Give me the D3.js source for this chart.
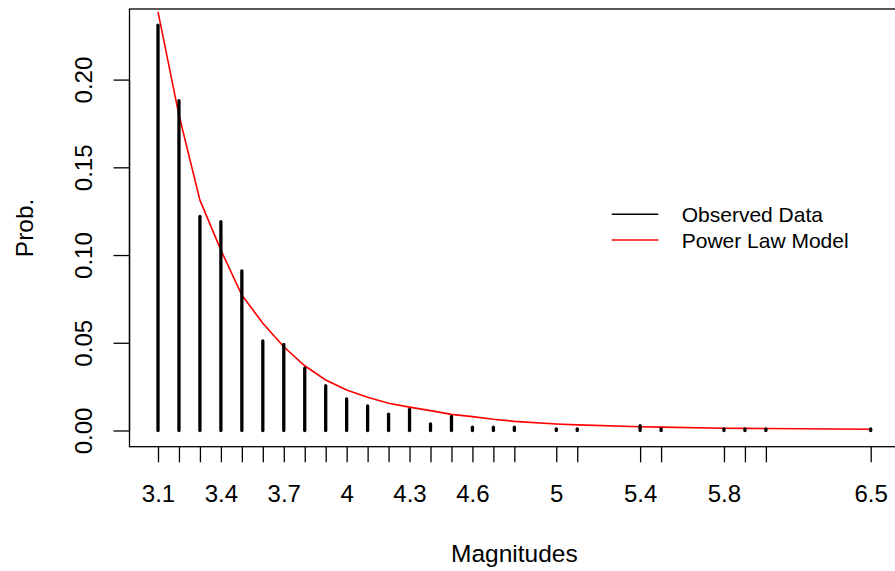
<!DOCTYPE html>
<html>
<head>
<meta charset="utf-8">
<script src="https://cdn.jsdelivr.net/npm/d3@7"></script>
<style>
  body { margin: 0; background: #fff; }
  text { font-family: "Liberation Sans", Arial, Helvetica, sans-serif; fill: #000; }
</style>
</head>
<body>
<div id="chart"></div>
<script>
// magnitudes that occur in the catalogue
var magnitudes = [3.1, 3.2, 3.3, 3.4, 3.5, 3.6, 3.7, 3.8, 3.9, 4.0, 4.1, 4.2, 4.3, 4.4, 4.5, 4.6, 4.7, 4.8,
                  5.0, 5.1, 5.4, 5.5, 5.8, 5.9, 6.0, 6.5];
// observed relative frequency (vertical lines)
var observed = [0.231, 0.188, 0.122, 0.119, 0.091, 0.051, 0.049, 0.0355, 0.0255, 0.018, 0.014, 0.0093, 0.012,
                0.0038, 0.008, 0.0019, 0.0019, 0.0019, 0.00095, 0.00095, 0.0028, 0.00095, 0.00095, 0.00095,
                0.00095, 0.00095];
// fitted power law (red line)
var model = [0.2386, 0.1798, 0.1313, 0.1028, 0.0772, 0.0611, 0.0477, 0.0369, 0.0288, 0.0231, 0.0190, 0.0155,
             0.0133, 0.0113, 0.0092, 0.0079, 0.0064, 0.0052, 0.0037, 0.0032, 0.0021, 0.0019, 0.0013, 0.0012,
             0.0011, 0.0007];
// tick labels R kept after dropping overlaps
var xLabels = [3.1, 3.4, 3.7, 4.0, 4.3, 4.6, 5.0, 5.4, 5.8, 6.5];
var yTicks = [0, 0.05, 0.10, 0.15, 0.20];
var legendNames = ["Observed Data", "Power Law Model"];
var legendColors = ["#000000", "#ff0000"];

var W = 895, H = 571;
var plot = {left: 129.5, right: 899.2, top: 9, bottom: 446.7};

var data = magnitudes.map(function(m, i) {
	return {mag: m, obs: observed[i], fit: model[i]};
});

// scales, padded 4% like R's default
var xMin = d3.min(magnitudes), xMax = d3.max(magnitudes);
var xPad = (xMax - xMin) * 0.04;
var xScale = d3.scaleLinear()
	.domain([xMin - xPad, xMax + xPad])
	.range([plot.left, plot.right]);

var yMax = d3.max(observed);
var yPad = yMax * 0.04;
var yScale = d3.scaleLinear()
	.domain([-yPad, yMax + yPad])
	.range([plot.bottom, plot.top]);

var svg = d3.select("#chart")
	.append("svg")
		.attr("width", W)
		.attr("height", H);

svg.append("clipPath")
	.attr("id", "clip")
	.append("rect")
		.attr("x", plot.left)
		.attr("y", plot.top)
		.attr("width", plot.right - plot.left)
		.attr("height", plot.bottom - plot.top);

var inner = svg.append("g").attr("clip-path", "url(#clip)");

// power law line
var line = d3.line()
	.x(function(d) { return xScale(d.mag); })
	.y(function(d) { return yScale(d.fit); });

inner.append("path")
	.datum(data)
	.attr("d", line)
	.attr("fill", "none")
	.attr("stroke", "#ff0000")
	.attr("stroke-width", 1.6);

// observed frequencies as type="h" lines
inner.selectAll(".spike")
	.data(data)
	.enter()
	.append("line")
		.attr("class", "spike")
		.attr("x1", function(d) { return xScale(d.mag); })
		.attr("x2", function(d) { return xScale(d.mag); })
		.attr("y1", yScale(0))
		.attr("y2", function(d) { return yScale(d.obs); })
		.attr("stroke", "#000")
		.attr("stroke-width", 3.3)
		.attr("stroke-linecap", "round");

// box
svg.append("rect")
	.attr("x", plot.left)
	.attr("y", plot.top)
	.attr("width", plot.right - plot.left)
	.attr("height", plot.bottom - plot.top)
	.attr("fill", "none")
	.attr("stroke", "#000")
	.attr("stroke-width", 1.3);

// x axis
var xAxis = d3.axisBottom(xScale)
	.tickValues(magnitudes)
	.tickSize(15.6)
	.tickFormat(function(d) {
		return xLabels.some(function(v) { return Math.abs(v - d) < 1e-9; }) ? String(+d.toFixed(1)) : "";
	});

var gx = svg.append("g")
	.attr("transform", "translate(0," + plot.bottom + ")")
	.call(xAxis);
gx.select(".domain").remove();
gx.selectAll(".tick line").attr("stroke", "#000").attr("stroke-width", 1.3);
gx.selectAll(".tick text")
	.attr("y", 55.3)
	.attr("dy", null)
	.attr("font-size", "24px")
	.attr("font-family", null);

// y axis
var yAxis = d3.axisLeft(yScale)
	.tickValues(yTicks)
	.tickSize(16)
	.tickFormat(d3.format(".2f"));

var gy = svg.append("g")
	.attr("transform", "translate(" + plot.left + ",0)")
	.call(yAxis);
gy.select(".domain")
	.attr("d", "M0," + yScale(0) + "V" + yScale(0.2))
	.attr("stroke", "#000")
	.attr("stroke-width", 1.3);
gy.selectAll(".tick line").attr("stroke", "#000").attr("stroke-width", 1.3);
gy.selectAll(".tick text")
	.attr("transform", "rotate(-90)")
	.attr("x", 0)
	.attr("y", -37.6)
	.attr("dy", null)
	.attr("text-anchor", "middle")
	.attr("font-size", "24px")
	.attr("font-family", null);

// axis titles
svg.append("text")
	.attr("x", (plot.left + plot.right) / 2)
	.attr("y", 561.7)
	.attr("text-anchor", "middle")
	.attr("font-size", "24.5px")
	.text("Magnitudes");

svg.append("text")
	.attr("transform", "translate(33," + ((plot.top + plot.bottom) / 2) + ") rotate(-90)")
	.attr("text-anchor", "middle")
	.attr("font-size", "24.5px")
	.text("Prob.");

// legend
var legend = svg.selectAll(".legend")
	.data(legendNames)
	.enter()
	.append("g")
		.attr("class", "legend")
		.attr("transform", function(d, i) { return "translate(611.7," + (214.3 + i * 25.7) + ")"; });

legend.append("line")
	.attr("x1", 0)
	.attr("x2", 46.6)
	.attr("stroke", function(d, i) { return legendColors[i]; })
	.attr("stroke-width", 1.4);

legend.append("text")
	.attr("x", 70)
	.attr("dy", "0.36em")
	.attr("font-size", "21px")
	.text(function(d) { return d; });
</script>
</body>
</html>
